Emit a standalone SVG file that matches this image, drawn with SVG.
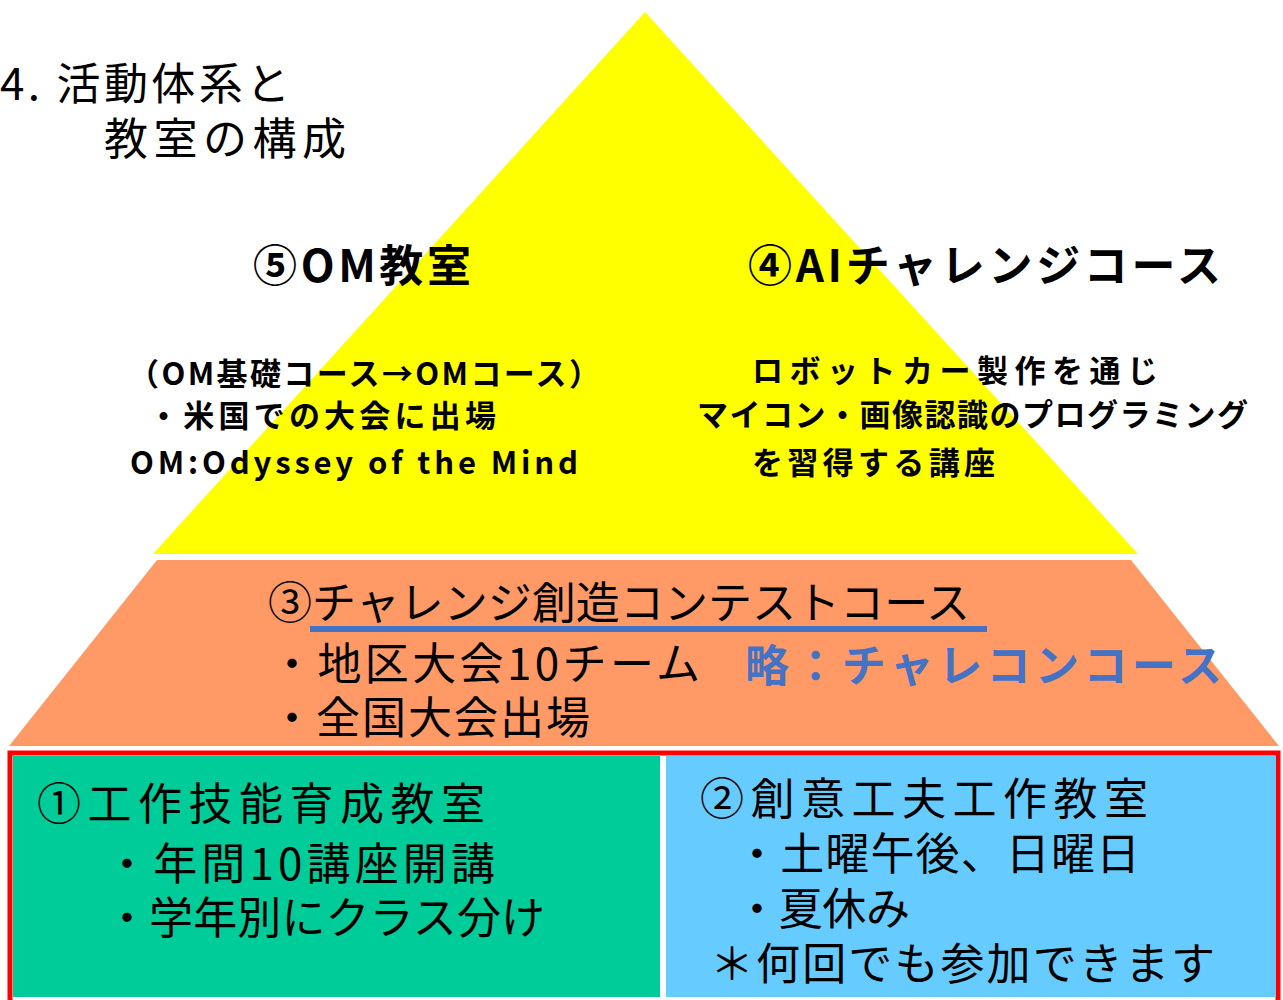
<svg xmlns="http://www.w3.org/2000/svg" width="1283" height="1000" viewBox="0 0 1283 1000">
<style>
text{font-family:"Noto Sans CJK JP","Noto Sans",sans-serif;fill:#000}
.t{font-size:44px}
.h{font-size:44px;font-weight:bold}
.s{font-size:31px;font-weight:bold}
.b{font-size:44px}
.blue{fill:#4472C4;font-weight:bold;font-size:44px}
</style>
<rect width="1283" height="1000" fill="#fff"/>
<g id="title">
<text class="t" x="0" y="100" textLength="290">4. 活動体系と</text>
<text class="t" x="104" y="155" textLength="242">教室の構成</text>
</g>
<g id="pyramid-top">
<polygon points="645,12 1138,554 153,554" fill="#FFFF00"/>
<text class="h" x="253" y="282" textLength="218">⑤OM教室</text>
<text class="h" x="748" y="282" textLength="473">④AIチャレンジコース</text>
<text class="s" x="128" y="385" textLength="472">（OM基礎コース→OMコース）</text>
<text class="s" x="148" y="427" textLength="348">・米国での大会に出場</text>
<text class="s" x="130" y="474" textLength="448">OM:Odyssey of the Mind</text>
<text class="s" x="752" y="382" textLength="406">ロボットカー製作を通じ</text>
<text class="s" x="697" y="426" textLength="551">マイコン・画像認識のプログラミング</text>
<text class="s" x="752" y="474" textLength="243">を習得する講座</text>
</g>
<g id="pyramid-middle">
<polygon points="157,560 1131,560 1279,746 9,746" fill="#FF9966"/>
<text class="t" x="268" y="619" textLength="702">③チャレンジ創造コンテストコース</text>
<rect x="310" y="626" width="677" height="6" fill="#4472C4"/>
<text class="t" x="270" y="680" textLength="430">・地区大会10チーム</text>
<text class="blue" x="745" y="682" textLength="477">略：チャレコンコース</text>
<text class="t" x="270" y="734" textLength="320">・全国大会出場</text>
</g>
<g id="base">
<rect x="10" y="753" width="1268" height="250" fill="#fff" stroke="#FF0000" stroke-width="5"/>
<g id="box1">
<rect x="13" y="756" width="647" height="241" fill="#00CC99"/>
<text class="b" x="37" y="820" textLength="448">①工作技能育成教室</text>
<text class="b" x="105" y="880" textLength="390">・年間10講座開講</text>
<text class="b" x="105" y="934" textLength="440">・学年別にクラス分け</text>
</g>
<g id="box2">
<rect x="666" y="756" width="610" height="241" fill="#66CCFF"/>
<text class="b" x="700" y="815" textLength="448">②創意工夫工作教室</text>
<text class="b" x="735" y="870" textLength="405">・土曜午後、日曜日</text>
<text class="b" x="735" y="925" textLength="175">・夏休み</text>
<text class="b" x="710" y="980" textLength="505">＊何回でも参加できます</text>
</g>
</g>
</svg>
